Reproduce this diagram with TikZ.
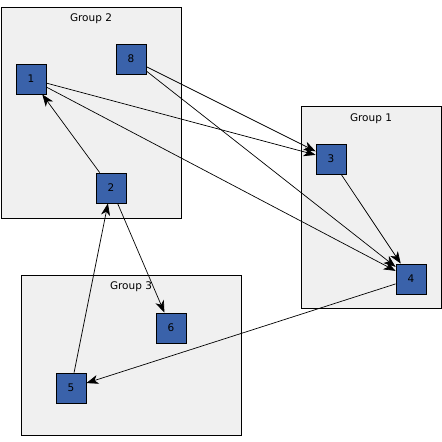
\documentclass[tikz,border=0pt]{standalone}
\usepackage{fontspec}
\setmainfont{DejaVu Sans}
\usepackage{tikz}
\usetikzlibrary{arrows.meta}
\definecolor{itemBlue}{HTML}{3A62AA}
\definecolor{groupGray}{HTML}{F0F0F0}

\begin{document}
\begin{tikzpicture}[x=1pt,y=-1pt,font=\fontsize{10.5}{12}\selectfont,
  groupbox/.style={draw=black,fill=groupGray,line width=0.8pt},
  item/.style={draw=black,fill=itemBlue,line width=0.8pt,minimum size=30pt,inner sep=0pt},
  link/.style={-{Stealth[length=12pt,width=9pt,inset=3.5pt]},line width=0.7pt}]
\useasboundingbox (0,0) rectangle (442,442);
% groups
\draw[groupbox] (1,7) rectangle (181,218);
\draw[groupbox] (301,106) rectangle (441,308);
\draw[groupbox] (21,275) rectangle (241,435);
\node (g2) at (91,18.5) {Group 2};
\node (g1) at (371,118.5) {Group 1};
\node (g3) at (131,287) {Group 3};
% items
\foreach \n/\x/\y in {1/31/79,8/131/59,2/111/188,3/331/159,4/411/279,6/171/328,5/71/388}
  \node[item] (n\n) at (\x,\y) {\n};
% links
\foreach \a/\b in {1/3,1/4,8/3,8/4,3/4,2/1,2/6,5/2,4/5}
  \draw[link] (n\a) -- (n\b);
\end{tikzpicture}
\end{document}
